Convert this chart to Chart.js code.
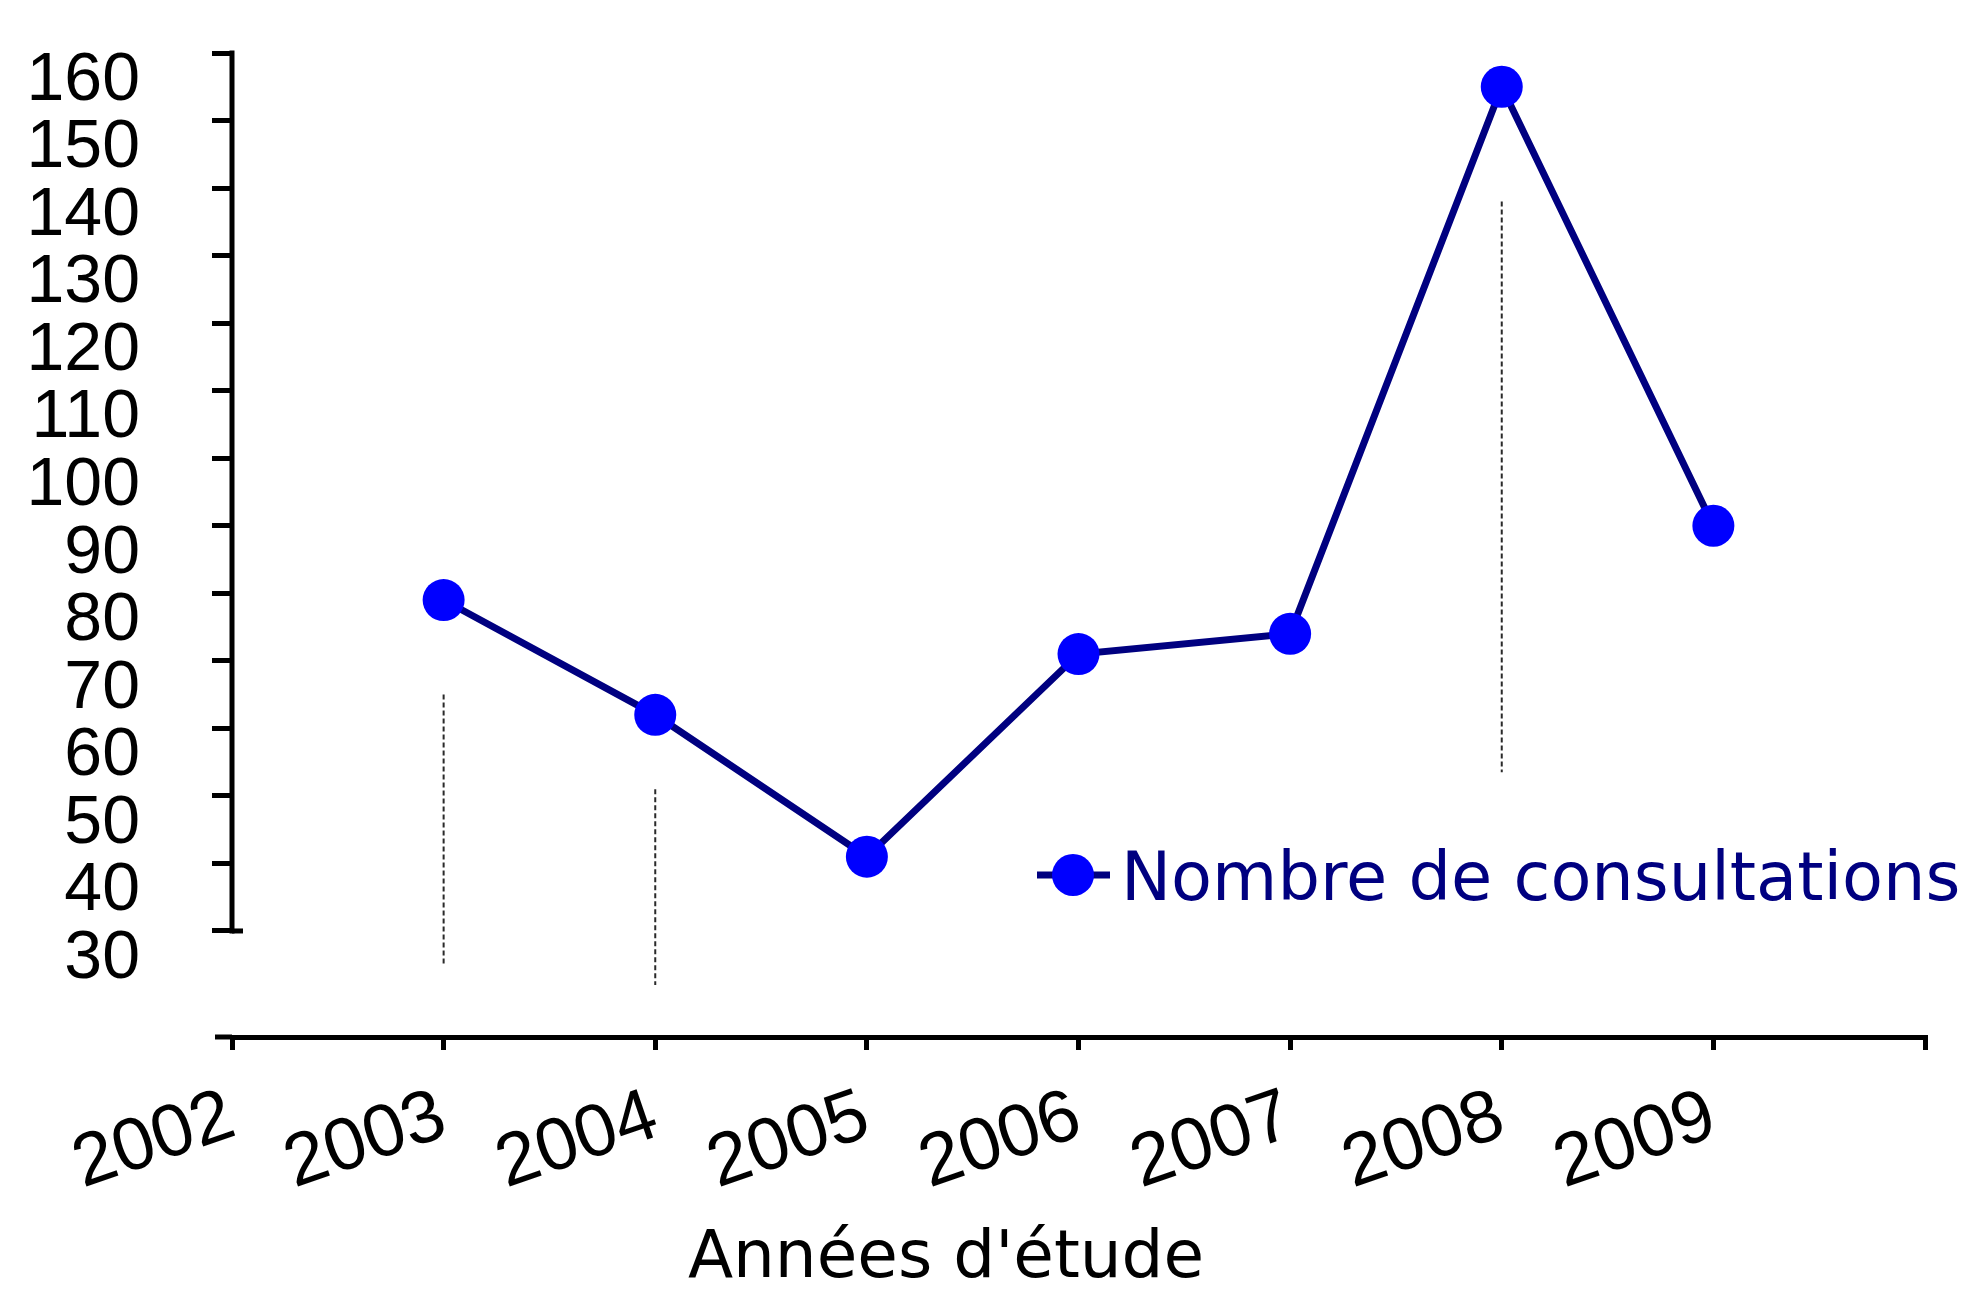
<!DOCTYPE html>
<html>
<head>
<meta charset="utf-8">
<script src="https://cdn.jsdelivr.net/npm/chart.js@4.4.1/dist/chart.umd.min.js"></script>
<style>
html,body{margin:0;padding:0;background:#fff;}
#wrap{width:1968px;height:1289px;position:relative;}
</style>
</head>
<body>
<div id="wrap"><canvas id="c" width="1968" height="1289"></canvas></div>
<script>
// ---- data ----
const years = [2003, 2004, 2005, 2006, 2007, 2008, 2009];
const consultations = [79, 62, 41, 71, 74, 155, 90];
const yTicks = [30, 40, 50, 60, 70, 80, 90, 100, 110, 120, 130, 140, 150, 160];
const xTicks = [2002, 2003, 2004, 2005, 2006, 2007, 2008, 2009, 2010];
const xLabels = ['2002', '2003', '2004', '2005', '2006', '2007', '2008', '2009', ''];
const guideYears = [2003, 2004, 2008];
const guideTop = [65, 51, 138];
const guideBottom = [25, 22, 53.5];
const seriesLabel = 'Nombre de consultations';
const xTitle = "Années d'étude";

const guideSets = guideYears.map((yr, i) => ({
  label: 'guide' + i,
  data: [{x: yr, y: guideTop[i]}, {x: yr, y: guideBottom[i]}],
  borderColor: '#2a2a2a',
  borderWidth: 2,
  borderDash: [5, 3],
  pointRadius: 0,
  fill: false,
  clip: false
}));

const customDraw = {
  id: 'customDraw',
  afterDraw(chart) {
    const ctx = chart.ctx, ys = chart.scales.y, ca = chart.chartArea;
    ctx.save();
    ctx.strokeStyle = '#000';
    ctx.lineWidth = 5;
    // y axis line only between first and last tick
    const yTop = ys.getPixelForValue(yTicks[yTicks.length - 1]);
    const yBot = ys.getPixelForValue(yTicks[0]);
    ctx.beginPath();
    ctx.moveTo(ca.left, yTop - 2.5);
    ctx.lineTo(ca.left, yBot + 2.5);
    ctx.stroke();
    // bottom cap extends right of axis
    ctx.beginPath();
    ctx.moveTo(ca.left, yBot);
    ctx.lineTo(ca.left + 11, yBot);
    ctx.stroke();
    // x axis overhang to the left
    ctx.beginPath();
    ctx.moveTo(ca.left - 17, ca.bottom);
    ctx.lineTo(ca.left, ca.bottom);
    ctx.stroke();

    // legend
    const ds = chart.data.datasets[0];
    const ly = 875;
    ctx.strokeStyle = ds.borderColor;
    ctx.lineWidth = ds.borderWidth;
    ctx.beginPath();
    ctx.moveTo(1037, ly);
    ctx.lineTo(1110, ly);
    ctx.stroke();
    ctx.fillStyle = ds.pointBackgroundColor;
    ctx.beginPath();
    ctx.arc(1073, ly, 21, 0, Math.PI * 2);
    ctx.fill();
    ctx.fillStyle = '#000080';
    ctx.font = '67px "DejaVu Sans"';
    ctx.textAlign = 'left';
    ctx.textBaseline = 'alphabetic';
    ctx.fillText(ds.label, 1121, 900);

    // x axis title
    ctx.fillStyle = '#000';
    ctx.font = '66px "DejaVu Sans"';
    ctx.textAlign = 'center';
    ctx.fillText(xTitle, 946, 1277);
    ctx.restore();
  }
};

new Chart(document.getElementById('c'), {
  type: 'line',
  data: {
    datasets: [{
      label: seriesLabel,
      data: years.map((x, i) => ({x: x, y: consultations[i]})),
      borderColor: '#000080',
      borderWidth: 7,
      pointRadius: 21,
      pointBackgroundColor: '#0000FF',
      pointBorderColor: '#0000FF',
      pointBorderWidth: 0,
      tension: 0,
      fill: false,
      clip: false
    }].concat(guideSets)
  },
  options: {
    responsive: false,
    devicePixelRatio: 1,
    animation: false,
    layout: {padding: {top: 53, right: 43, left: 0, bottom: 0}},
    plugins: {legend: {display: false}, tooltip: {enabled: false}},
    scales: {
      x: {
        type: 'linear',
        min: xTicks[0],
        max: xTicks[xTicks.length - 1],
        afterBuildTicks: s => { s.ticks = xTicks.map(v => ({value: v})); },
        afterFit: s => { s.height = 252; s.paddingLeft = 0; s.paddingRight = 0; },
        ticks: {
          autoSkip: false,
          minRotation: 19,
          maxRotation: 19,
          padding: 23,
          color: '#000',
          font: {family: 'Liberation Sans', size: 74},
          callback: v => xLabels[xTicks.indexOf(v)]
        },
        grid: {drawOnChartArea: false, drawTicks: true, tickLength: 13, lineWidth: 5, color: '#000'},
        border: {display: true, color: '#000', width: 5}
      },
      y: {
        type: 'linear',
        min: 14.3,
        max: yTicks[yTicks.length - 1],
        afterBuildTicks: s => { s.ticks = yTicks.map(v => ({value: v})); },
        afterFit: s => { s.width = 232; s.paddingTop = 0; s.paddingBottom = 0; },
        ticks: {
          autoSkip: false,
          padding: 72,
          labelOffset: 28,
          color: '#000',
          font: {family: 'Liberation Sans', size: 68},
          callback: v => String(v)
        },
        grid: {drawOnChartArea: false, drawTicks: true, tickLength: 20, lineWidth: 5, color: '#000'},
        border: {display: false}
      }
    }
  },
  plugins: [customDraw]
});
</script>
</body>
</html>
